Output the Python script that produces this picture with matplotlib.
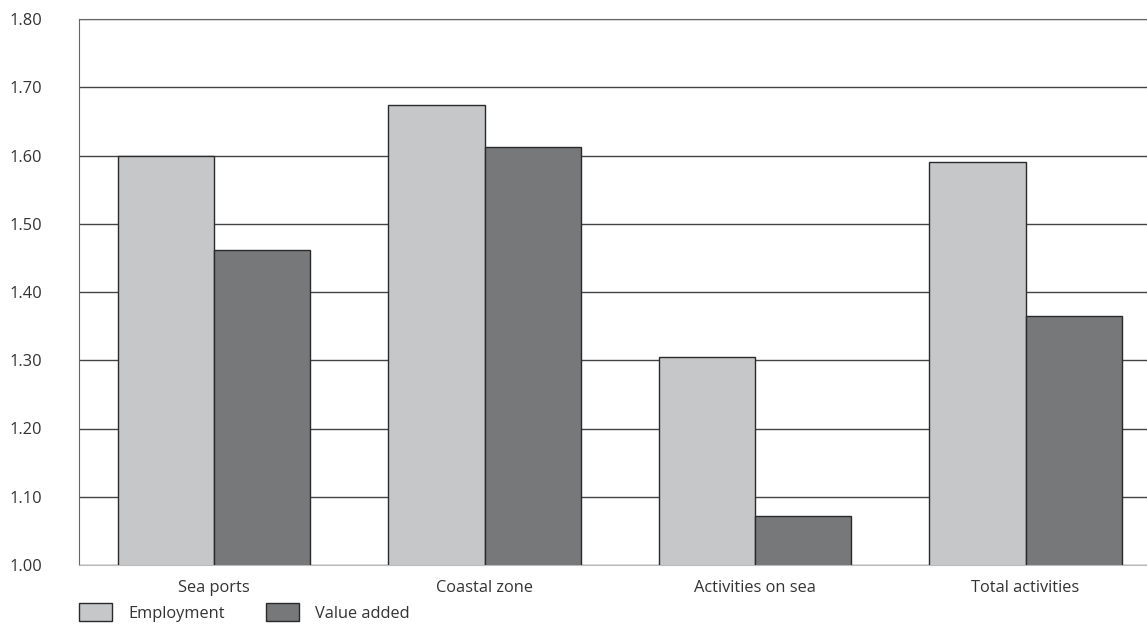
import matplotlib.pyplot as plt
import numpy as np

# values
categories = ['Sea ports', 'Coastal zone', 'Activities on sea', 'Total activities']
employment = [1.60, 1.674, 1.305, 1.59]
value_added = [1.462, 1.612, 1.072, 1.365]
yticks = [1.00, 1.10, 1.20, 1.30, 1.40, 1.50, 1.60, 1.70, 1.80]

plt.rcParams['font.family'] = ['Open Sans', 'DejaVu Sans']
fs = 11.8

fig = plt.figure(figsize=(11.47, 6.29), dpi=100)
ax = fig.add_axes([79 / 1147, 1 - 565 / 629, 1075 / 1147, 546 / 629])

x = np.arange(len(categories))
w = 0.356
ax.bar(x - w / 2, employment, w, color='#c6c7c9', edgecolor='#2a2a2a',
       linewidth=1.0, label='Employment', zorder=3)
ax.bar(x + w / 2, value_added, w, color='#77787a', edgecolor='#2a2a2a',
       linewidth=1.0, label='Value added', zorder=3)

ax.set_ylim(1.0, 1.8)
ax.set_xlim(-0.5, 3.475)
ax.set_yticks(yticks)
ax.set_yticklabels([f'{v:.2f}' for v in yticks], fontsize=fs, color='#333333')
ax.set_xticks(x)
ax.set_xticklabels(categories, fontsize=fs, color='#333333')
ax.tick_params(length=0)
ax.tick_params(axis='x', pad=11)
ax.tick_params(axis='y', pad=50)
for t in ax.get_yticklabels():
    t.set_horizontalalignment('left')
ax.grid(axis='y', color='#444444', linewidth=1.0, zorder=0)

ax.spines['right'].set_visible(False)
ax.spines['left'].set_color('#666666')
ax.spines['top'].set_color('#666666')
ax.spines['bottom'].set_color('#bbbbbb')

ax.legend(loc='upper left', bbox_to_anchor=(0.0, -0.07), ncol=2, frameon=False,
          fontsize=fs, handlelength=2.0, handleheight=1.3, columnspacing=2.5,
          handletextpad=1.0, borderpad=0, borderaxespad=0, labelcolor='#333333')

fig.savefig('out.png', dpi=100)
